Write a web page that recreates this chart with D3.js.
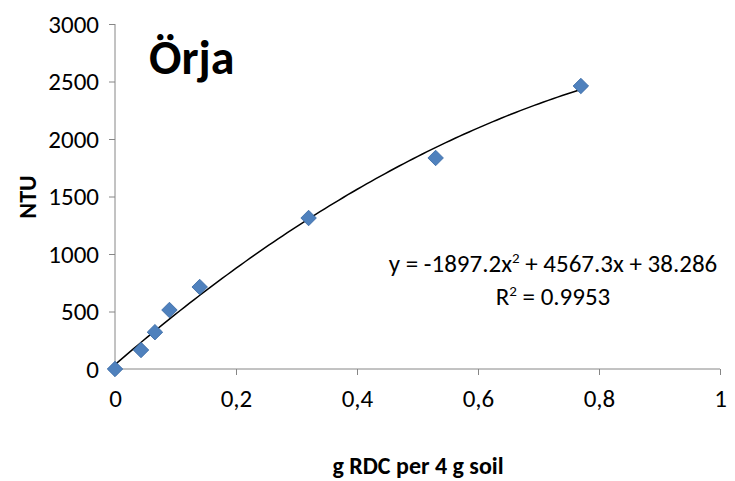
<!DOCTYPE html>
<html><head><meta charset="utf-8">
<script src="https://cdn.jsdelivr.net/npm/d3@7"></script>
<style>body{margin:0;background:#fff;font-family:Carlito,"Open Sans",sans-serif}</style>
</head><body>
<svg id="c" width="735" height="481"></svg>
<script>
// measured points
const xVals = [0, 0.043, 0.066, 0.09, 0.14, 0.32, 0.53, 0.77];
const yVals = [0, 165, 320, 513, 713, 1313, 1835, 2461];
const xTicks = [0, 0.2, 0.4, 0.6, 0.8, 1];
const yTicks = [0, 500, 1000, 1500, 2000, 2500, 3000];
const coef = [-1897.2, 4567.3, 38.286];

const svg = d3.select('#c');
const margin = {left: 115, right: 15, top: 24, bottom: 112};
const x = d3.scaleLinear().domain([0, 1]).range([margin.left, 735 - margin.right]);
const y = d3.scaleLinear().domain([0, 3000]).range([481 - margin.bottom, margin.top]);

const fmt = d => d === 0 ? '0' : d === 1 ? '1' : d3.format('.1f')(d).replace('.', ',');
const xa = svg.append('g').attr('transform', `translate(0,${y(0)})`)
  .call(d3.axisBottom(x).tickValues(xTicks).tickSize(6).tickPadding(14).tickFormat(fmt));
const ya = svg.append('g').attr('transform', `translate(${x(0)},0)`)
  .call(d3.axisLeft(y).tickValues(yTicks).tickSize(6).tickPadding(10).tickFormat(d3.format('d')));
[xa, ya].forEach(a => {
  a.attr('font-size', 25).attr('font-family', 'Carlito,"Open Sans",sans-serif');
  a.selectAll('path,line').attr('stroke', '#868686');
  a.selectAll('text').attr('fill', '#000');
  a.select('.domain').attr('d', a === xa ? `M${x(0)},0H${x(1)}` : `M0,${y(0)}V${y(3000)}`);
});

// trendline
const f = t => coef[0] * t * t + coef[1] * t + coef[2];
const ts = d3.range(0, 101).map(i => i / 100 * 0.77);
svg.append('path').attr('fill', 'none').attr('stroke', '#000').attr('stroke-width', 1.5)
  .attr('d', d3.line().x(t => x(t)).y(t => y(f(t)))(ts));

// points
svg.selectAll('.pt').data(xVals).join('path')
  .attr('d', d3.symbol(d3.symbolSquare, 120))
  .attr('transform', (d, i) => `translate(${x(d)},${y(yVals[i])}) rotate(45)`)
  .attr('fill', '#4f81bd').attr('stroke', '#3a6aa5').attr('stroke-width', 0.8);

svg.append('text').attr('x', 149).attr('y', 74).attr('font-size', 48).attr('font-weight', 'bold').text('Örja');
svg.append('text').attr('transform', 'translate(36,197) rotate(-90)').attr('text-anchor', 'middle')
  .attr('font-size', 24).attr('font-weight', 'bold').text('NTU');
svg.append('text').attr('x', 418).attr('y', 474).attr('text-anchor', 'middle')
  .attr('font-size', 24).attr('font-weight', 'bold').text('g RDC per 4 g soil');
const eq = svg.append('text').attr('x', 553).attr('y', 272).attr('text-anchor', 'middle').attr('font-size', 25);
eq.append('tspan').text('y = -1897.2x');
eq.append('tspan').attr('dy', -9).attr('font-size', 15).text('2');
eq.append('tspan').attr('dy', 9).text(' + 4567.3x + 38.286');
const r2 = svg.append('text').attr('x', 553).attr('y', 305).attr('text-anchor', 'middle').attr('font-size', 25);
r2.append('tspan').text('R');
r2.append('tspan').attr('dy', -9).attr('font-size', 15).text('2');
r2.append('tspan').attr('dy', 9).text(' = 0.9953');
</script>
</body></html>
